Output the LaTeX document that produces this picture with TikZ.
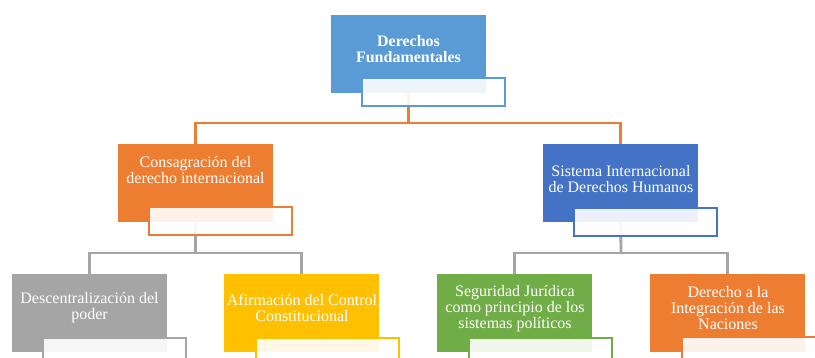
\documentclass[tikz,border=0pt]{standalone}
\usepackage{fontspec}
\setmainfont{Liberation Serif}
\definecolor{cTop}{HTML}{5B9BD5}
\definecolor{cOrange}{HTML}{ED7D31}
\definecolor{cBlue}{HTML}{4472C4}
\definecolor{cGray}{HTML}{A5A5A5}
\definecolor{cYellow}{HTML}{FFC000}
\definecolor{cGreen}{HTML}{70AD47}
\tikzset{
  mainbox/.style={rectangle, draw=none, inner sep=0pt, anchor=north west, minimum width=155pt, minimum height=78pt},
  secbox/.style={rectangle, line width=1.8pt, fill=white, fill opacity=0.9, draw opacity=1, inner sep=0pt, anchor=north west, minimum width=143pt, minimum height=28pt},
  lbl/.style={text=white, align=center, inner sep=0pt, font=\fontsize{16}{16}\selectfont},
  oconn/.style={draw=cOrange, line width=2.8pt},
  gconn/.style={draw=cGray, line width=2.8pt}
}
\begin{document}
\begin{tikzpicture}[x=1pt,y=-1pt]
\clip (0,0) rectangle (815,358);
\fill[white] (0,0) rectangle (815,358);
% main boxes
\node[mainbox, fill=cTop] (top) at (331,15) {};
\node[mainbox, fill=cOrange] (consag) at (118,144) {};
\node[mainbox, fill=cBlue] (sist) at (543,144) {};
\node[mainbox, fill=cGray] (desc) at (12,274) {};
\node[mainbox, fill=cYellow] (afirm) at (224,274) {};
\node[mainbox, fill=cGreen] (segur) at (437,274) {};
\node[mainbox, fill=cOrange] (integ) at (650,274) {};
% junctions
\coordinate (j1) at (408.5,123);
\coordinate (j2) at (195.5,253);
\coordinate (j3) at (621,253);
% connectors
\draw[oconn] (top.south) -- (j1);
\draw[oconn] (consag.north) |- (j1) -| (sist.north);
\draw[gconn] (consag.south) -- (j2);
\draw[gconn] (desc.north) |- (j2) -| (afirm.north);
\draw[gconn] (sist.south) -- (j3);
\draw[gconn] (segur.north) |- (j3) -| (integ.north);
% redraw main boxes over connector ends
\fill[cTop] (top.north west) rectangle (top.south east);
\fill[cOrange] (consag.north west) rectangle (consag.south east);
\fill[cBlue] (sist.north west) rectangle (sist.south east);
\fill[cGray] (desc.north west) rectangle (desc.south east);
\fill[cYellow] (afirm.north west) rectangle (afirm.south east);
\fill[cGreen] (segur.north west) rectangle (segur.south east);
\fill[cOrange] (integ.north west) rectangle (integ.south east);
% secondary boxes
\node[secbox, draw=cTop] (tops) at (361,77) {};
\node[secbox, draw=cOrange] (consags) at (148,206) {};
\node[secbox, draw=cBlue] (sists) at (573,207) {};
\node[secbox, draw=cGray] (descs) at (42,337) {};
\node[secbox, draw=cYellow] (afirms) at (255,337) {};
\node[secbox, draw=cGreen] (segurs) at (468,337) {};
\node[secbox, draw=cOrange] (integs) at (681,336) {};
% labels
\node[lbl, font=\fontsize{16}{16}\selectfont\bfseries] (topt) at (408.5,49) {Derechos\\Fundamentales};
\node[lbl] (consagt) at (195.5,170) {Consagración del\\derecho internacional};
\node[lbl] (sistt) at (621,179) {Sistema Internacional\\de Derechos Humanos};
\node[lbl] (desct) at (89.5,308) {Descentralización del\\poder};
\node[lbl] (afirmt) at (302,308) {Afirmación del Control\\Constitucional};
\node[lbl] (segurt) at (515,308.5) {Seguridad Jurídica\\como principio de los\\sistemas políticos};
\node[lbl] (integt) at (728,308.5) {Derecho a la\\Integración de las\\Naciones};
\end{tikzpicture}
\end{document}
